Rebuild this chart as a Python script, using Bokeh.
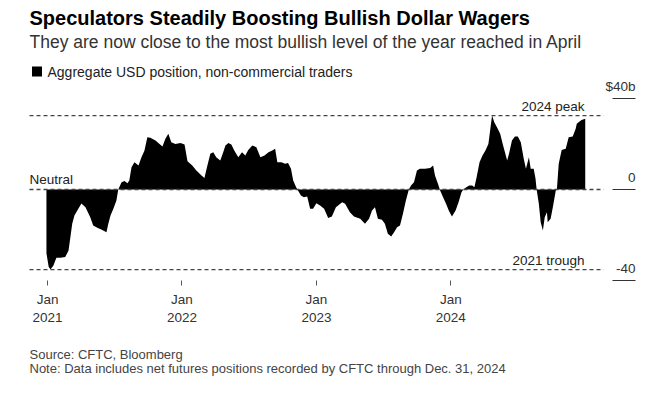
import pandas as pd
from bokeh.plotting import figure
from bokeh.models import (Label, FixedTicker, DatetimeTickFormatter, BoxAnnotation,
                          DatetimeAxis, LinearAxis)
from bokeh.embed import file_html
from bokeh.resources import INLINE

# ---------------- data ----------------
dates_2021 = ["2020-12-29", "2021-01-04", "2021-01-09", "2021-01-17", "2021-01-25", "2021-02-05",
              "2021-02-18", "2021-02-27", "2021-03-04", "2021-03-09", "2021-03-15", "2021-03-26",
              "2021-04-03", "2021-04-14", "2021-04-27", "2021-05-05", "2021-05-16", "2021-05-27",
              "2021-06-10", "2021-06-15", "2021-06-21", "2021-06-29", "2021-07-07", "2021-07-12",
              "2021-07-21", "2021-07-29", "2021-08-06", "2021-08-11", "2021-08-17", "2021-08-25",
              "2021-09-05", "2021-09-13", "2021-09-21", "2021-09-29", "2021-10-07", "2021-10-21",
              "2021-11-09", "2021-11-17", "2021-11-25", "2021-12-03", "2021-12-14", "2021-12-28"]
values_2021 = [-28, -34, -35.2, -33.4, -30, -30,
               -29.7, -26.8, -21, -15, -11.4, -8.4,
               -6.2, -7.8, -12.2, -15.8, -16.8, -17.6,
               -18.8, -15, -11.4, -8.4, -4.8, 0,
               3.2, 3.7, 2.8, 4, 9.8, 12,
               10.5, 14.2, 17, 23, 22.7, 21.5,
               18.9, 22.3, 24.5, 20.8, 20, 20.4]

dates_2022 = ["2022-01-08", "2022-01-16", "2022-01-29", "2022-02-09", "2022-02-23", "2022-03-03",
              "2022-03-11", "2022-03-19", "2022-03-27", "2022-04-04", "2022-04-15", "2022-04-23",
              "2022-04-29", "2022-05-07", "2022-05-15", "2022-05-23", "2022-06-03", "2022-06-13",
              "2022-06-22", "2022-06-30", "2022-07-11", "2022-07-22", "2022-08-02", "2022-08-13",
              "2022-08-24", "2022-09-03", "2022-09-11", "2022-09-17", "2022-09-28", "2022-10-08",
              "2022-10-16", "2022-10-24", "2022-10-30", "2022-11-07", "2022-11-12", "2022-11-20",
              "2022-11-28", "2022-12-07", "2022-12-15", "2022-12-23"]
values_2022 = [19.8, 12.4, 10.5, 8.4, 6.2, 5.1,
               10.5, 15.7, 16.4, 14.2, 12.7, 16.4,
               19.3, 20.4, 19.8, 17.1, 14.2, 16.4,
               14.9, 17.4, 19.3, 18.6, 14.2, 14.9,
               16.4, 17.1, 17.9, 12, 12, 11.3,
               11.6, 9.1, 4, 1, -0.4, -2.6,
               -3.4, -3.1, -8.5, -8.5]

dates_2023 = ["2023-01-01", "2023-01-11", "2023-01-22", "2023-02-02", "2023-02-12", "2023-02-23",
              "2023-03-12", "2023-03-20", "2023-04-02", "2023-04-13", "2023-04-30", "2023-05-13",
              "2023-05-24", "2023-06-01", "2023-06-09", "2023-06-17", "2023-06-28", "2023-07-06",
              "2023-07-14", "2023-07-23", "2023-07-31", "2023-08-08", "2023-08-16", "2023-08-24",
              "2023-09-01", "2023-09-09", "2023-09-15", "2023-09-23", "2023-10-01", "2023-10-09",
              "2023-10-23", "2023-11-06", "2023-11-14", "2023-11-19", "2023-11-27", "2023-12-03",
              "2023-12-11", "2023-12-19", "2023-12-27"]
values_2023 = [-6, -7, -8.5, -12.5, -11.9, -7.8,
               -5.6, -6.3, -10, -11.9, -12.9, -15.1,
               -12.9, -9.2, -7.8, -12.9, -13.3, -15.1,
               -19.5, -20.7, -18.8, -16.6, -15.8, -10.7,
               -4.8, 0, 1.8, 3.2, 8.4, 9.1,
               9.1, 9.5, 10.5, 6.2, 2.5, -0.4,
               -3.4, -6.3, -9.5]

dates_2024 = ["2024-01-04", "2024-01-14", "2024-01-22", "2024-01-30", "2024-02-04", "2024-02-12",
              "2024-02-20", "2024-02-28", "2024-03-05", "2024-03-11", "2024-03-19", "2024-03-27",
              "2024-04-04", "2024-04-12", "2024-04-22", "2024-04-28", "2024-05-06", "2024-05-14",
              "2024-05-22", "2024-06-02", "2024-06-07", "2024-06-15", "2024-06-23", "2024-07-01",
              "2024-07-09", "2024-07-17", "2024-07-23", "2024-07-31", "2024-08-05", "2024-08-13",
              "2024-08-18", "2024-08-21", "2024-08-27", "2024-09-01", "2024-09-07", "2024-09-12",
              "2024-09-18", "2024-09-20", "2024-09-28", "2024-10-04", "2024-10-12", "2024-10-15",
              "2024-10-20", "2024-10-28", "2024-11-08", "2024-11-16", "2024-11-27", "2024-12-05",
              "2024-12-08", "2024-12-13", "2024-12-21", "2024-12-31"]
values_2024 = [-11.9, -9.2, -5.6, -1.2, 0, 1,
               1.8, 1.8, 1, 5.4, 12, 14.9,
               17.1, 20, 32.5, 29.6, 27.1, 24.5,
               19.3, 12.7, 15.7, 21.5, 23.3, 23.3,
               20.8, 13.5, 9.1, 14.2, 9.1, 9.1,
               4.7, 0, -6.3, -14.4, -18, -12.2,
               -10, -14.4, -12.9, -7.8, -0.4, 0,
               11.3, 17.4, 17.9, 23, 23.3, 26.7,
               28.9, 29.6, 30.6, 31.1]

x_tick_dates = ["2021-01-01", "2022-01-01", "2023-01-01", "2024-01-01"]
y_ticks = [-40, 0, 40]
y_tick_labels = ["-40", "0", "$40b"]

title = "Speculators Steadily Boosting Bullish Dollar Wagers"
subtitle = "They are now close to the most bullish level of the year reached in April"
legend_label = "Aggregate USD position, non-commercial traders"
source_note = "Source: CFTC, Bloomberg"
data_note = "Note: Data includes net futures positions recorded by CFTC through Dec. 31, 2024"

# ---------------- build ----------------
dates = pd.to_datetime(dates_2021 + dates_2022 + dates_2023 + dates_2024)
values = values_2021 + values_2022 + values_2023 + values_2024
peak = max(values)
trough = min(values)

FONT = "Liberation Sans"
W, H = 655, 395

# plot window (page pixels) and the values it spans
PX0, PX1 = 29, 612          # left / right edge of chart window
PY_TOP, PY_BOT = 98, 280    # y = 40 and y = -40
t0 = pd.Timestamp("2020-11-13")
t1 = pd.Timestamp("2025-03-15")
line_end = pd.Timestamp("2025-02-19")
y_lo, y_hi = -40, 40

per_px = (t1 - t0) / (PX1 - PX0)
per_py = (y_hi - y_lo) / (PY_BOT - PY_TOP)
x_range = (t0 - per_px * PX0, t1 + per_px * (W - PX1))
y_range = (y_lo - per_py * (H - PY_BOT), y_hi + per_py * PY_TOP)

p = figure(width=W, height=H, x_axis_type="datetime",
           x_axis_location=None, y_axis_location=None,
           x_range=x_range, y_range=y_range,
           output_backend="svg", toolbar_location=None, min_border=0)
p.min_border_left = p.min_border_right = p.min_border_top = p.min_border_bottom = 0
p.title.visible = False
p.outline_line_color = None
p.grid.visible = False
p.background_fill_color = "white"
p.border_fill_color = "white"

p.varea(x=dates, y1=0, y2=values, fill_color="black")

for yv in (peak, 0, trough):
    p.segment(x0=[t0], y0=[yv], x1=[line_end], y1=[yv],
              line_color="#444444", line_width=1.3, line_dash="4 3")

# x axis, placed at the bottom of the chart window
xa = DatetimeAxis(fixed_location=y_lo)
xa.ticker = FixedTicker(ticks=[pd.Timestamp(d).value / 1e6 for d in x_tick_dates])
xa.formatter = DatetimeTickFormatter(years="%b\n%Y", months="%b\n%Y", days="%b\n%Y",
                                     hours="%b\n%Y", minutes="%b\n%Y")
xa.axis_line_color = None
xa.major_tick_in = 0
xa.major_tick_out = 5
xa.major_tick_line_color = "#555555"
xa.minor_tick_line_color = None
xa.major_label_text_font = FONT
xa.major_label_text_font_size = "13.5px"
xa.major_label_text_color = "#333333"
xa.major_label_text_line_height = 1.25
xa.major_label_standoff = 6
p.add_layout(xa, "below")

# y axis, at the right edge of the chart window
ya = LinearAxis(fixed_location=t1.value / 1e6)
ya.ticker = FixedTicker(ticks=y_ticks)
ya.major_label_overrides = {t: "" for t in y_ticks}
ya.axis_line_color = None
ya.major_tick_in = 0
ya.major_tick_out = 23
ya.major_tick_line_color = "#333333"
ya.major_tick_line_width = 1.2
ya.minor_tick_line_color = None
ya.major_label_standoff = 0
p.add_layout(ya, "right")


# screen units are measured from the bottom-left corner of the plotting frame (= canvas here)
def sx(page_x):
    return page_x


def sy(page_y):
    return H - page_y


for t, lab in zip(y_ticks, y_tick_labels):
    p.add_layout(Label(x=sx(635), y=t, x_units="screen", y_units="data", y_offset=12, text=lab,
                       text_align="right", text_baseline="middle",
                       text_font=FONT, text_font_size="13.5px", text_color="#333333"))


def add_text(txt, px, baseline_y, size, color="#222222", bold=False, align="left"):
    mid = baseline_y - 0.35 * size
    p.add_layout(Label(x=sx(px), y=sy(mid), x_units="screen", y_units="screen", text=txt,
                       text_align=align, text_baseline="middle", text_font=FONT,
                       text_font_size=f"{size}px", text_color=color,
                       text_font_style="bold" if bold else "normal"))


add_text(title, 29, 24, 20, color="#000000", bold=True)
add_text(subtitle, 29, 48, 17.5, color="#333333")
add_text(legend_label, 47, 76, 14, color="#222222")
p.add_layout(BoxAnnotation(left=sx(31.5), right=sx(41.5), top=sy(66), bottom=sy(76),
                           left_units="screen", right_units="screen",
                           top_units="screen", bottom_units="screen",
                           fill_color="black", fill_alpha=1, line_color=None))

add_text("2024 peak", 584, 111, 13.5, color="#222222", align="right")
add_text("Neutral", 29, 184, 13.5, color="#222222")
add_text("2021 trough", 584, 265, 13.5, color="#222222", align="right")

add_text(source_note, 29, 359, 13, color="#444444")
add_text(data_note, 29, 373, 13, color="#444444")

open("out.html", "w").write(file_html(p, INLINE))
